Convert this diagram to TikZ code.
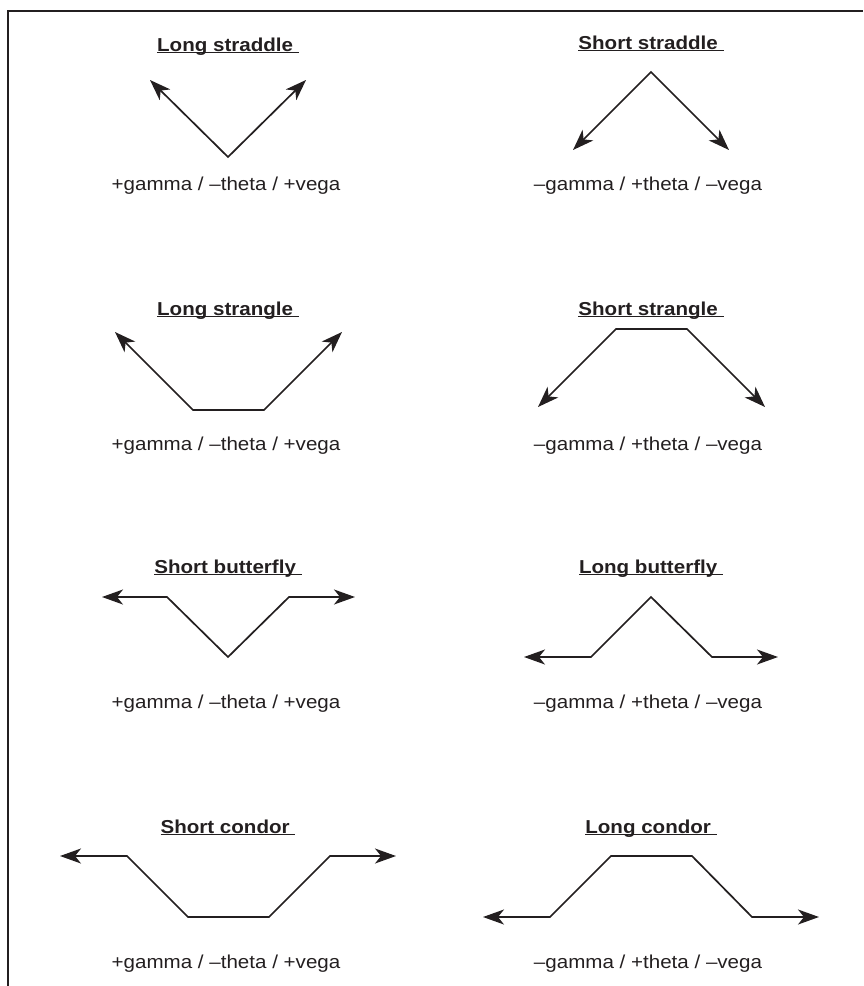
\documentclass[tikz,border=0pt]{standalone}
\usepackage{fontspec}
\setmainfont{Liberation Sans}[FakeStretch=1.1]
\usetikzlibrary{arrows.meta}
\definecolor{ink}{HTML}{231F20}
\tikzset{
  ln/.style={line width=1.7pt, draw=ink},
  tip/.style={ln, {Stealth[length=21pt,width=15pt,inset=6pt]}-{Stealth[length=21pt,width=15pt,inset=6pt]}},
  ttl/.style={font=\fontsize{18.7}{20}\selectfont\bfseries, anchor=base, inner sep=0pt, outer sep=0pt, text=ink},
  lbl/.style={font=\fontsize{18.7}{20}\selectfont, anchor=base, inner sep=0pt, outer sep=0pt, text=ink},
  uline/.style={draw=ink, line width=1.1pt},
}
\begin{document}
\begin{tikzpicture}[x=1pt,y=-1pt]
\useasboundingbox (0,0) rectangle (863,986);
% frame
\coordinate (f1) at (8,986);
\coordinate (f2) at (8,11);
\coordinate (f3) at (863,11);
\draw[draw=ink, line width=1.4pt] (f1) -- (f2) -- (f3);

% ---------- titles ----------
\node[ttl] (t1) at (228,51) {Long straddle\ \null};
\node[ttl] (t2) at (651,49) {Short straddle\ \null};
\node[ttl] (t3) at (228,315) {Long strangle\ \null};
\node[ttl] (t4) at (651,315) {Short strangle\ \null};
\node[ttl] (t5) at (228,573) {Short butterfly\ \null};
\node[ttl] (t6) at (651,573) {Long butterfly\ \null};
\node[ttl] (t7) at (228,833) {Short condor\ \null};
\node[ttl] (t8) at (651,833) {Long condor\ \null};
\foreach \t in {t1,t2,t3,t4,t5,t6,t7,t8}
  \draw[uline] ([yshift=-1.8pt]\t.base west) -- ([yshift=-1.8pt]\t.base east);

% ---------- labels ----------
\node[lbl] (l1) at (226,190) {+gamma / –theta / +vega};
\node[lbl] (l2) at (648,190) {–gamma / +theta / –vega};
\node[lbl] (l3) at (226,450) {+gamma / –theta / +vega};
\node[lbl] (l4) at (648,450) {–gamma / +theta / –vega};
\node[lbl] (l5) at (226,708) {+gamma / –theta / +vega};
\node[lbl] (l6) at (648,708) {–gamma / +theta / –vega};
\node[lbl] (l7) at (226,968) {+gamma / –theta / +vega};
\node[lbl] (l8) at (648,968) {–gamma / +theta / –vega};

% ---------- Long straddle ----------
\coordinate (a1) at (150,80);
\coordinate (b1) at (228,157);
\coordinate (c1) at (306,80);
\draw[tip] (a1) -- (b1) -- (c1);

% ---------- Short straddle ----------
\coordinate (a2) at (573,150);
\coordinate (b2) at (651,72);
\coordinate (c2) at (729,150);
\draw[tip] (a2) -- (b2) -- (c2);

% ---------- Long strangle ----------
\coordinate (a3) at (115,332);
\coordinate (b3) at (193,410);
\coordinate (c3) at (264,410);
\coordinate (d3) at (342,332);
\draw[tip] (a3) -- (b3) -- (c3) -- (d3);

% ---------- Short strangle ----------
\coordinate (a4) at (538,407);
\coordinate (b4) at (616,329);
\coordinate (c4) at (687,329);
\coordinate (d4) at (765,407);
\draw[tip] (a4) -- (b4) -- (c4) -- (d4);

% ---------- Short butterfly ----------
\coordinate (a5) at (102,597);
\coordinate (b5) at (167,597);
\coordinate (c5) at (228,657);
\coordinate (d5) at (289,597);
\coordinate (e5) at (355,597);
\draw[tip] (a5) -- (b5) -- (c5) -- (d5) -- (e5);

% ---------- Long butterfly ----------
\coordinate (a6) at (524,657);
\coordinate (b6) at (591,657);
\coordinate (c6) at (651,597);
\coordinate (d6) at (712,657);
\coordinate (e6) at (778,657);
\draw[tip] (a6) -- (b6) -- (c6) -- (d6) -- (e6);

% ---------- Short condor ----------
\coordinate (a7) at (60,856);
\coordinate (b7) at (127,856);
\coordinate (c7) at (188,917);
\coordinate (d7) at (269,917);
\coordinate (e7) at (330,856);
\coordinate (f7) at (396,856);
\draw[tip] (a7) -- (b7) -- (c7) -- (d7) -- (e7) -- (f7);

% ---------- Long condor ----------
\coordinate (a8) at (483,917);
\coordinate (b8) at (550,917);
\coordinate (c8) at (611,856);
\coordinate (d8) at (692,856);
\coordinate (e8) at (752,917);
\coordinate (f8) at (819,917);
\draw[tip] (a8) -- (b8) -- (c8) -- (d8) -- (e8) -- (f8);
\end{tikzpicture}
\end{document}
